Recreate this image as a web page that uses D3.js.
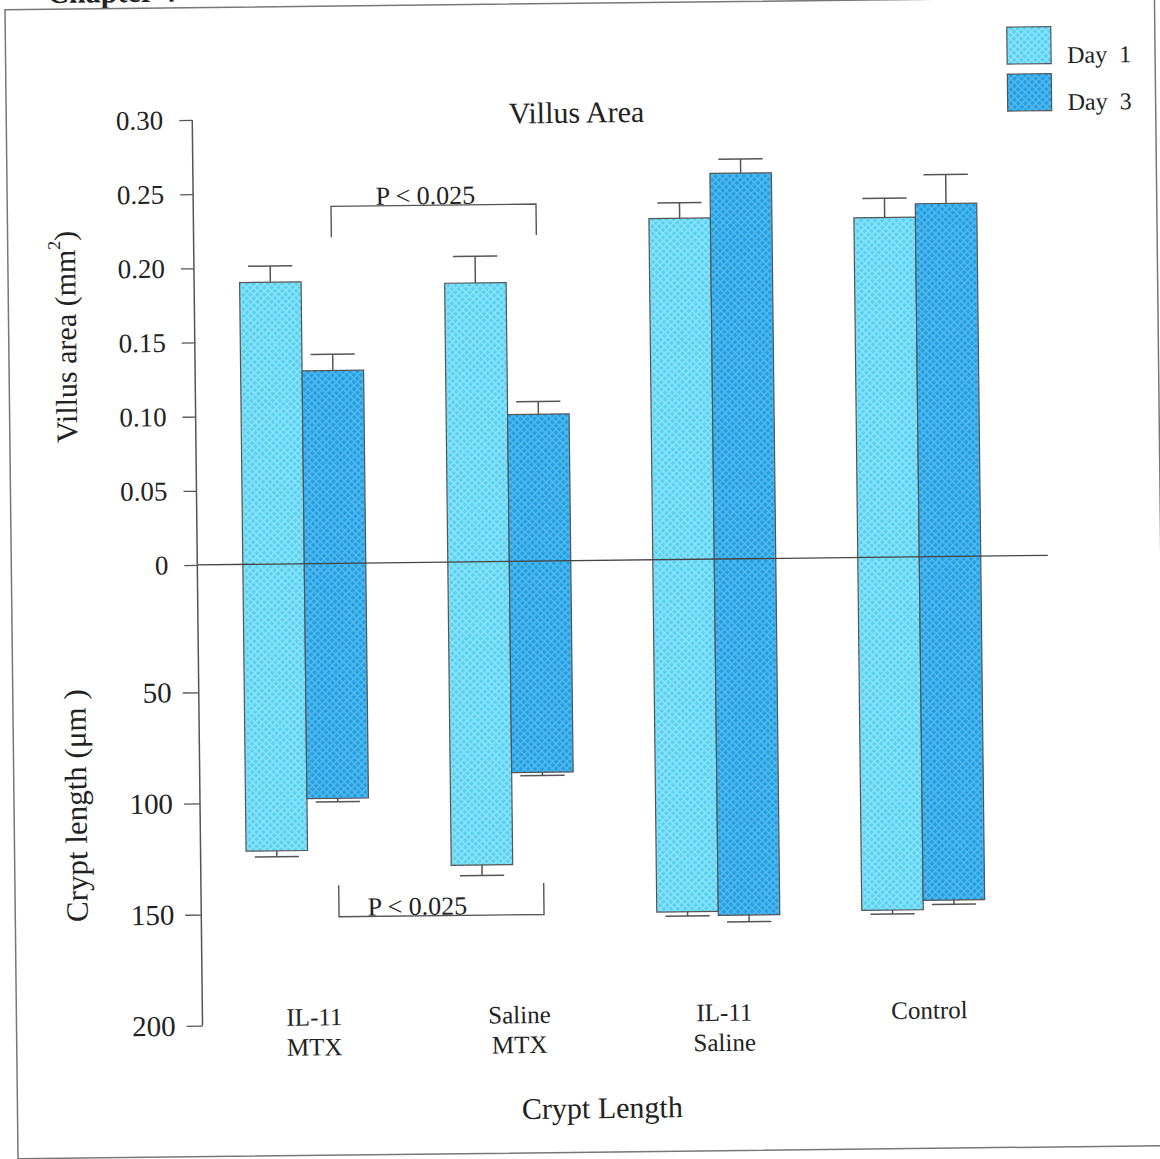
<!DOCTYPE html>
<html>
<head>
<meta charset="utf-8">
<script src="https://cdn.jsdelivr.net/npm/d3@7"></script>
<style>
  html, body { margin: 0; padding: 0; background: #ffffff; }
  svg { display: block; }
  text { font-family: "Liberation Serif", "Times New Roman", Times, serif; fill: #222; }
</style>
</head>
<body>
<script>
// ---- data -------------------------------------------------------------
const groups = ["IL-11 MTX", "Saline MTX", "IL-11 Saline", "Control"];
const groupLabels = [["IL-11", "MTX"], ["Saline", "MTX"], ["IL-11", "Saline"], ["Control"]];
const series = ["Day 1", "Day 3"];

// villus area (mm²), mean and error
const villusDay1 = [0.190, 0.188, 0.230, 0.229];
const villusDay1Err = [0.011, 0.018, 0.0105, 0.013];
const villusDay3 = [0.130, 0.099, 0.260, 0.238];
const villusDay3Err = [0.011, 0.0085, 0.0095, 0.0195];

// crypt length (µm), mean and error
const cryptDay1 = [121.7, 129.1, 151.2, 151.5];
const cryptDay1Err = [2.7, 4.8, 1.9, 1.8];
const cryptDay3 = [98.4, 87.7, 153.0, 147.3];
const cryptDay3Err = [1.5, 1.5, 3.0, 1.9];

const villusTicks = [0, 0.05, 0.10, 0.15, 0.20, 0.25, 0.30];
const cryptTicks = [50, 100, 150, 200];

// significance brackets (Day 3, IL-11 MTX vs Saline MTX)
const villusComparison = { series: "Day 3", from: "IL-11 MTX", to: "Saline MTX", label: "P < 0.025", level: 0.2407, drop: 0.2198 };
const cryptComparison = { series: "Day 3", from: "IL-11 MTX", to: "Saline MTX", label: "P < 0.025", level: 151.7, drop: 137.5 };

// ---- layout -----------------------------------------------------------
const W = 1160, H = 1159;
const axisX = 197.5;
const zeroY = 560.6;
const ink = "#555";
const fillBase = { "Day 1": "#55D1F2", "Day 3": "#209FE2" };
const fillLight = { "Day 1": "#8FE3F8", "Day 3": "#56BAEE" };

const svg = d3.select("body").append("svg").attr("width", W).attr("height", H);
const defs = svg.append("defs");
series.forEach((s, i) => {
  const p = defs.append("pattern")
    .attr("id", "hatch" + i)
    .attr("patternUnits", "userSpaceOnUse")
    .attr("width", 5).attr("height", 5)
    .attr("patternTransform", "rotate(45)");
  p.append("rect").attr("width", 5).attr("height", 5).attr("fill", fillBase[s]);
  p.append("rect").attr("width", 5).attr("height", 1.5).attr("fill", fillLight[s]);
  p.append("rect").attr("width", 1.5).attr("height", 5).attr("fill", fillLight[s]);
});

// the whole page sits at a slight tilt
const g = svg.append("g").attr("transform", "rotate(-0.65,580,580)");

// page header and frame
g.append("text").attr("x", 54).attr("y", -3)
  .attr("font-size", 30).attr("font-weight", "bold").text("Chapter 4");
g.append("rect").attr("x", 11.5).attr("y", 3.3).attr("width", 1149.5).attr("height", 1149)
  .attr("fill", "none").attr("stroke", "#777").attr("stroke-width", 1.5);

// ---- scales -----------------------------------------------------------
const x0 = d3.scaleBand().domain(groups).range([202, 1022]).paddingInner(0.4).paddingOuter(0.2);
const x1 = d3.scaleBand().domain(series).range([0, x0.bandwidth()]);
const villusY = d3.scaleLinear().domain([0, 0.30]).range([zeroY, 115.6]);
const cryptY = d3.scaleLinear().domain([0, 50, 200]).range([zeroY, 688, 1021.4]);

const rows = groups.map((grp, i) => ({
  group: grp,
  values: [
    { s: "Day 1", v: villusDay1[i], ve: villusDay1Err[i], c: cryptDay1[i], ce: cryptDay1Err[i] },
    { s: "Day 3", v: villusDay3[i], ve: villusDay3Err[i], c: cryptDay3[i], ce: cryptDay3Err[i] }
  ]
}));

// ---- bars -------------------------------------------------------------
const gg = g.selectAll(".grp").data(rows).join("g")
  .attr("class", "grp")
  .attr("transform", d => `translate(${x0(d.group)},0)`);

const bar = gg.selectAll(".bar").data(d => d.values).join("g").attr("class", "bar");
bar.append("rect")
  .attr("x", d => x1(d.s))
  .attr("y", d => villusY(d.v))
  .attr("width", x1.bandwidth())
  .attr("height", d => cryptY(d.c) - villusY(d.v))
  .attr("fill", d => `url(#hatch${series.indexOf(d.s)})`)
  .attr("stroke", ink).attr("stroke-width", 1.2);

const capW = x1.bandwidth() * 0.72;
// villus error bars (upwards)
bar.append("line")
  .attr("x1", d => x1(d.s) + x1.bandwidth() / 2).attr("x2", d => x1(d.s) + x1.bandwidth() / 2)
  .attr("y1", d => villusY(d.v)).attr("y2", d => villusY(d.v + d.ve))
  .attr("stroke", ink).attr("stroke-width", 1.5);
bar.append("line")
  .attr("x1", d => x1(d.s) + (x1.bandwidth() - capW) / 2).attr("x2", d => x1(d.s) + (x1.bandwidth() + capW) / 2)
  .attr("y1", d => villusY(d.v + d.ve)).attr("y2", d => villusY(d.v + d.ve))
  .attr("stroke", ink).attr("stroke-width", 1.5);
// crypt error bars (downwards)
bar.append("line")
  .attr("x1", d => x1(d.s) + x1.bandwidth() / 2).attr("x2", d => x1(d.s) + x1.bandwidth() / 2)
  .attr("y1", d => cryptY(d.c)).attr("y2", d => cryptY(d.c + d.ce))
  .attr("stroke", ink).attr("stroke-width", 1.5);
bar.append("line")
  .attr("x1", d => x1(d.s) + (x1.bandwidth() - capW) / 2).attr("x2", d => x1(d.s) + (x1.bandwidth() + capW) / 2)
  .attr("y1", d => cryptY(d.c + d.ce)).attr("y2", d => cryptY(d.c + d.ce))
  .attr("stroke", ink).attr("stroke-width", 1.5);

// zero line across both panels
g.append("line").attr("x1", axisX).attr("x2", 1048)
  .attr("y1", zeroY).attr("y2", zeroY)
  .attr("stroke", "#444").attr("stroke-width", 1.3);

// ---- axes -------------------------------------------------------------
g.append("line").attr("x1", axisX).attr("x2", axisX)
  .attr("y1", villusY(0.30)).attr("y2", cryptY(200))
  .attr("stroke", ink).attr("stroke-width", 1.5);

const villusAxis = g.append("g").attr("transform", `translate(${axisX},0)`)
  .call(d3.axisLeft(villusY).tickValues(villusTicks).tickSize(13).tickPadding(16)
    .tickFormat(d => d === 0 ? "0" : d3.format(".2f")(d)));
villusAxis.select(".domain").remove();
villusAxis.selectAll(".tick line").attr("stroke", ink).attr("stroke-width", 1.3);
villusAxis.selectAll(".tick text").attr("font-size", 27).attr("fill", "#222")
  .attr("font-family", "'Liberation Serif', 'Times New Roman', serif");

const cryptAxis = g.append("g").attr("transform", `translate(${axisX},0)`)
  .call(d3.axisLeft(cryptY).tickValues(cryptTicks).tickSize(16).tickPadding(11));
cryptAxis.select(".domain").remove();
cryptAxis.selectAll(".tick line").attr("stroke", ink).attr("stroke-width", 1.3);
cryptAxis.selectAll(".tick text").attr("font-size", 29).attr("fill", "#222")
  .attr("font-family", "'Liberation Serif', 'Times New Roman', serif");

// axis titles
g.append("text").attr("transform", "translate(67.8,331) rotate(-90)")
  .attr("text-anchor", "middle").attr("dominant-baseline", "central")
  .attr("font-size", 30)
  .call(t => {
    t.append("tspan").text("Villus area (mm");
    t.append("tspan").attr("baseline-shift", "super").attr("font-size", 18).text("2");
    t.append("tspan").text(")");
  });
g.append("text").attr("transform", "translate(73.5,800) rotate(-90)")
  .attr("text-anchor", "middle").attr("dominant-baseline", "central")
  .attr("font-size", 31).text("Crypt length (\u03bcm )");

g.append("text").attr("x", 581.7).attr("y", 122.7).attr("text-anchor", "middle")
  .attr("font-size", 30).text("Villus Area");
g.append("text").attr("x", 596.4).attr("y", 1118.3).attr("text-anchor", "middle")
  .attr("font-size", 30).text("Crypt Length");

// group labels
const gl = g.selectAll(".glabel").data(groups).join("text")
  .attr("class", "glabel")
  .attr("text-anchor", "middle").attr("font-size", 25)
  .attr("x", d => x0(d) + x0.bandwidth() / 2 + 5)
  .attr("y", 1022.5);
gl.selectAll("tspan").data((d, i) => groupLabels[i]).join("tspan")
  .attr("x", function () { return d3.select(this.parentNode).attr("x"); })
  .attr("dy", (d, i) => i === 0 ? 0 : 30)
  .text(d => d);

// ---- significance brackets ---------------------------------------------
function bracket(cmp, yScale, textDx) {
  const xa = x0(cmp.from) + x1(cmp.series) + x1.bandwidth() / 2;
  const xb = x0(cmp.to) + x1(cmp.series) + x1.bandwidth() / 2;
  const yl = yScale(cmp.level), yd = yScale(cmp.drop);
  g.append("path")
    .attr("d", `M${xa},${yd}V${yl}H${xb}V${yd}`)
    .attr("fill", "none").attr("stroke", ink).attr("stroke-width", 1.4);
  g.append("text").attr("x", (xa + xb) / 2 + textDx).attr("y", yl - 1)
    .attr("text-anchor", "middle").attr("font-size", 26).text(cmp.label);
}
bracket(villusComparison, villusY, -8);
bracket(cryptComparison, cryptY, -24);

// ---- legend -----------------------------------------------------------
const lg = g.selectAll(".leg").data(series).join("g").attr("class", "leg")
  .attr("transform", (d, i) => `translate(1013,${32 + i * 47})`);
lg.append("rect").attr("width", 44).attr("height", 37)
  .attr("fill", (d, i) => `url(#hatch${i})`).attr("stroke", ink).attr("stroke-width", 1.2);
lg.append("text").attr("x", 60).attr("y", 36.5).attr("font-size", 24)
  .text(d => d.replace(" ", "\u2002"));
</script>
</body>
</html>
